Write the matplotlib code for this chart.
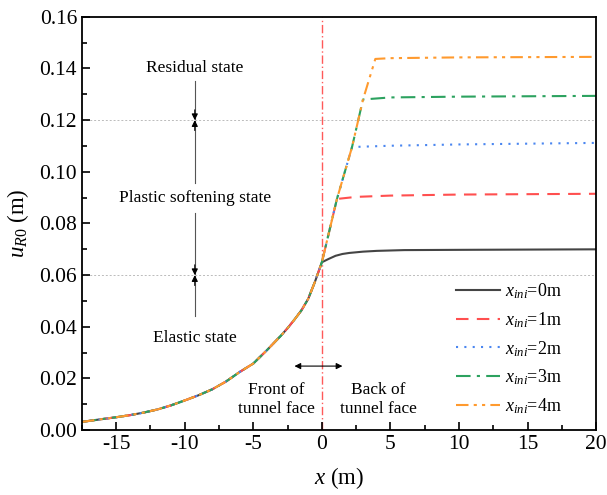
import numpy as np
import matplotlib.pyplot as plt

plt.rcParams['font.family'] = ['Liberation Serif', 'DejaVu Serif']
plt.rcParams['mathtext.fontset'] = 'custom'
plt.rcParams['mathtext.rm'] = 'Liberation Serif'
plt.rcParams['mathtext.it'] = 'Liberation Serif:italic'

# displacement ahead of the tunnel face (shared by all cases)
x_front = [-17.5, -16, -15, -14, -13, -12, -11, -10, -9, -8, -7, -6, -5, -4,
           -3, -2.5, -2, -1.5, -1, -0.5, 0]
u_front = [0.0032, 0.0043, 0.0050, 0.0058, 0.0068, 0.0080, 0.0096, 0.0115,
           0.0135, 0.0158, 0.0188, 0.0225, 0.0258, 0.0310, 0.0365, 0.0395,
           0.0428, 0.0463, 0.0508, 0.0575, 0.065]

# rising branch behind the face for x_ini > 0
x_rise = [1.1, 2.2, 3.0, 3.9]
u_rise = [0.0895, 0.1096, 0.128, 0.1437]

# x_ini = 0
x_b0 = [0.5, 1, 1.5, 2, 3, 4, 6, 10, 15, 20]
u_b0 = [0.0663, 0.0675, 0.0682, 0.0686, 0.0691, 0.0694, 0.0697, 0.0698, 0.0699, 0.0700]
# plateaus for x_ini = 1..4
x_b1 = [2.5, 5, 10, 20]
u_b1 = [0.0903, 0.0908, 0.0912, 0.0915]
x_b2 = [5, 10, 20]
u_b2 = [0.1101, 0.1106, 0.1112]
x_b3 = [5, 10, 20]
u_b3 = [0.1288, 0.1291, 0.1294]
x_b4 = [5, 10, 20]
u_b4 = [0.1440, 0.1443, 0.1445]

labels = [r'$x_{ini}$=0m', r'$x_{ini}$=1m', r'$x_{ini}$=2m', r'$x_{ini}$=3m', r'$x_{ini}$=4m']
colors = ['#444444', '#ff4f4f', '#4a86f0', '#2ca25f', '#ff9a2e']
styles = ['-', (0, (6, 4)), (0, (1, 3)), (0, (7, 3, 1.5, 3)), (0, (6, 2.5, 1.5, 2.5, 1.5, 2.5))]

series = [
    (x_front + x_b0, u_front + u_b0),
    (x_front + x_rise[:1] + x_b1, u_front + u_rise[:1] + u_b1),
    (x_front + x_rise[:2] + x_b2, u_front + u_rise[:2] + u_b2),
    (x_front + x_rise[:3] + x_b3, u_front + u_rise[:3] + u_b3),
    (x_front + x_rise[:4] + x_b4, u_front + u_rise[:4] + u_b4),
]

fig = plt.figure(figsize=(6.07, 4.95), dpi=100)
ax = fig.add_axes([0.135, 0.131, 0.847, 0.835])

for yg in [0.06, 0.12]:
    ax.axhline(yg, color='#bbbbbb', lw=0.7, ls=(0, (2, 2)), zorder=0)

for (xs, us), lab, c, ls in zip(series, labels, colors, styles):
    ax.plot(xs, us, color=c, ls=ls, lw=1.5, label=lab)

ax.axvline(0, color='#ff5a5a', lw=1.0, ls=(0, (6, 2, 1, 2)), zorder=1)

# state annotations
xa = -9.27
ax.plot([xa, xa], [0.135, 0.1205], color='#555555', lw=0.8)
ax.plot([xa, xa], [0.1195, 0.0957], color='#555555', lw=0.8)
ax.plot([xa, xa], [0.084, 0.0605], color='#555555', lw=0.8)
ax.plot([xa, xa], [0.0595, 0.044], color='#555555', lw=0.8)
for yv, d in [(0.12, -1), (0.12, 1), (0.06, -1), (0.06, 1)]:
    ax.annotate('', xy=(xa, yv), xytext=(xa, yv - d * 0.004),
                arrowprops=dict(arrowstyle='-|>', color='black', lw=0.8,
                                mutation_scale=9, shrinkA=0, shrinkB=0))
ax.text(xa, 0.1400, 'Residual state', ha='center', va='center', fontsize=12.5)
ax.text(xa, 0.0900, 'Plastic softening state', ha='center', va='center', fontsize=12.5)
ax.text(xa, 0.0355, 'Elastic state', ha='center', va='center', fontsize=12.5)

ax.annotate('', xy=(-2.0, 0.0248), xytext=(1.5, 0.0248),
            arrowprops=dict(arrowstyle='<|-|>', color='black', lw=0.8,
                            mutation_scale=9, shrinkA=0, shrinkB=0))
ax.text(-3.3, 0.0118, 'Front of\ntunnel face', ha='center', va='center',
        fontsize=12.5, linespacing=1.2)
ax.text(4.1, 0.0118, 'Back of\ntunnel face', ha='center', va='center',
        fontsize=12.5, linespacing=1.2)

ax.set_xlim(-17.5, 20)
ax.set_ylim(0, 0.16)
ax.set_xticks([-15, -10, -5, 0, 5, 10, 15, 20])
ax.set_xticklabels(['-15', '-10', '-5', '0', '5', '10', '15', '20'])
ax.set_yticks(np.arange(0, 0.161, 0.02))
ax.set_yticklabels(['%.2f' % v for v in np.arange(0, 0.161, 0.02)])
ax.set_xticks(np.arange(-17.5, 20.1, 2.5), minor=True)
ax.set_yticks(np.arange(0.01, 0.16, 0.02), minor=True)
ax.tick_params(which='both', direction='in', labelsize=15.5, width=1.2)
ax.tick_params(which='major', length=6)
ax.tick_params(which='minor', length=3.5)
for s in ax.spines.values():
    s.set_linewidth(1.3)

ax.set_xlabel(r'$x$ (m)', fontsize=16.5, labelpad=8)
ax.set_ylabel(r'$u_{R0}$ (m)', fontsize=16.5, labelpad=6)

ax.legend(loc='lower right', bbox_to_anchor=(0.965, -0.005), frameon=False, fontsize=13,
          handlelength=2.4, handletextpad=0.3, labelspacing=0.5)

fig.savefig('out.png', dpi=100)
